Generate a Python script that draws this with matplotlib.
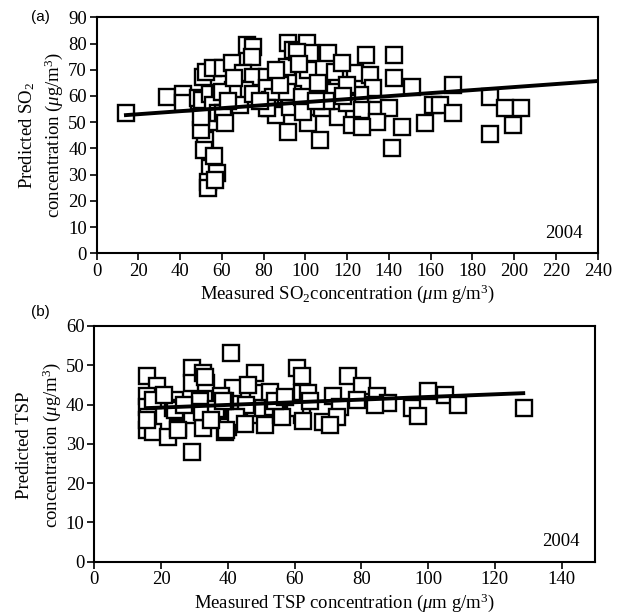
import matplotlib
matplotlib.use("Agg")
import matplotlib.pyplot as plt

plt.rcParams['font.family'] = ['Liberation Serif', 'DejaVu Serif']
plt.rcParams['mathtext.fontset'] = 'custom'
plt.rcParams['mathtext.rm'] = 'Liberation Serif'
plt.rcParams['mathtext.it'] = 'Liberation Serif:italic'

# ---- Panel (a): SO2 ----
so2_measured = [14, 33.5, 41.5, 41.5, 48.7, 50.3, 51, 52.5, 55.9, 60.7, 64.7,
                51.9, 51.6, 54.3, 53.5, 53.5, 56, 57.5, 56.8, 54.3, 59, 55.9,
                56.7, 58.2, 50, 50, 71.9, 75, 74.4, 70.2, 75, 71, 65.4, 68.6,
                75, 81.4, 81.4, 82.9, 84.5, 82.9, 86, 91.8, 91.8, 91.8, 94, 91,
                94.1, 97.3, 92.6, 100.6, 102.2, 101.4, 101.4, 106.8, 95.8, 110.9,
                114.2, 59.9, 91, 98.2, 107.8, 114.2, 107.8, 115.7, 60.7, 61.5,
                81.4, 99, 128.9, 142.4, 123.7, 130.9, 142.4, 150.9, 170.8, 117.4,
                132.5, 126.1, 119.8, 127, 134.1, 140.2, 161.2, 164.5, 170.8, 157.3,
                146.1, 134.1, 122.2, 127, 141.3, 188.4, 195.6, 203.1, 199.6, 188.4,
                106, 88, 78, 110, 120, 86, 97, 105, 118, 63, 66]
so2_predicted = [53.4, 59.5, 60.6, 57.2, 59.1, 58.5, 67.4, 69, 70.6, 70.6, 72.5,
                 43.2, 39.5, 32.4, 27.3, 24.8, 37, 30.6, 28, 60.8, 61, 56.6,
                 50.2, 53.4, 47, 52, 79.4, 78.7, 75, 68.6, 67.4, 62.2, 62.2, 56.6,
                 60.8, 67.4, 62.9, 58.5, 59.7, 55.4, 52.8, 46.4, 67.4, 80.1, 77.5, 71.1,
                 60.8, 58.5, 55.9, 80.1, 76.3, 69.9, 49.6, 43.2, 76.9, 76.3,
                 69.3, 61.6, 61.6, 59.7, 62.3, 61.6, 55.3, 52.1, 53.4, 49.6,
                 55.3, 54, 75.6, 75.6, 68.6, 68, 66.7, 63.5, 64.2, 72.5,
                 62.9, 60.4, 57.2, 54.7, 54.7, 55.3, 56.6, 56.6, 53.4, 49.6,
                 48.3, 50.2, 48.9, 48.3, 40, 59.5, 55.3, 55.3, 48.9, 45.4,
                 65, 64, 58, 58, 64, 70, 72, 58, 60, 58, 67]
so2_fit_x = [14, 240]
so2_fit_y = [52.7, 65.7]

# ---- Panel (b): TSP ----
tsp_measured = [15.7, 18.7, 15.7, 15.7, 16.2, 15.7, 17.7, 22.2, 24.2, 23.7, 25.2,
                29.2, 29.2, 29.2, 29.2, 32.6, 33.6, 32.6, 31.6, 37.6, 37.1, 39.1,
                41.1, 41.6, 40.1, 43.1, 48.1, 49.1, 48.1, 51.1, 50.4, 45.4, 53.6,
                55.8, 60.6, 62.1, 62.1, 62.1, 60.1, 76.1, 80.1, 71.6, 84.6, 78.6,
                88.1, 84, 73.6, 95.1, 97.1, 100, 105.1, 109, 128.7, 68.6, 72.8,
                70.6, 62.6, 64.1, 52.6, 42.6, 56.1, 45.1, 39.1, 54, 64.6, 33.1,
                38.1, 17.7, 24.2, 32.2, 36.6, 15.7, 25.2, 39.6, 38.6, 21, 27, 35,
                46, 57]
tsp_predicted = [47.3, 44.8, 42.1, 39.5, 36.9, 33.6, 33.1, 31.7, 41.2, 39.1, 34.1,
                 49.3, 45.5, 37.4, 28, 48, 45.5, 34.1, 40.9, 41.2, 36.9, 33.1,
                 53.1, 44.2, 34.4, 36.9, 48.1, 42.9, 37.4, 34.8, 39.1, 40, 39.5,
                 37.4, 49.3, 47.3, 42.9, 37.4, 39.1, 47.3, 44.6, 42.1, 42.1, 41.2,
                 40.4, 39.9, 39.5, 39.1, 37.1, 43.4, 42.5, 39.9, 39.2, 35.6, 36.9,
                 34.8, 35.9, 43, 43.3, 36.9, 36.9, 35.1, 40.8, 40.8, 40.8, 47.1,
                 42.1, 41.2, 38.7, 38.1, 38.9, 36.1, 33.6, 33.6, 40.8, 42.5, 40, 36,
                 45, 42]
tsp_fit_x = [16, 128.5]
tsp_fit_y = [39.1, 42.9]

so2_xticks = list(range(0, 241, 20))
so2_yticks = list(range(0, 91, 10))
tsp_xticks = list(range(0, 141, 20))
tsp_yticks = list(range(0, 61, 10))

W, H = 628, 613
fig = plt.figure(figsize=(W / 100, H / 100), dpi=100)

ax1 = fig.add_axes([96.7 / W, 1 - 253.3 / H, (597.7 - 96.7) / W, (253.3 - 17.3) / H])
ax2 = fig.add_axes([94.3 / W, 1 - 561.7 / H, (595 - 94.3) / W, (561.7 - 326) / H])

mstyle = dict(linestyle='none', marker='s', markersize=11.5, markerfacecolor='white',
              markeredgecolor='black', markeredgewidth=1.7)

ax1.plot(so2_measured, so2_predicted, **mstyle, zorder=2)
ax1.plot(so2_fit_x, so2_fit_y, color='black', linewidth=2.8, zorder=3)
ax2.plot(tsp_measured, tsp_predicted, **mstyle, zorder=2)
ax2.plot(tsp_fit_x, tsp_fit_y, color='black', linewidth=2.8, zorder=3)

ax1.set_xlim(0, 240)
ax1.set_ylim(0, 90)
ax1.set_xticks(so2_xticks)
ax1.set_yticks(so2_yticks)
ax2.set_xlim(0, 150)
ax2.set_ylim(0, 60)
ax2.set_xticks(tsp_xticks)
ax2.set_yticks(tsp_yticks)

for ax in (ax1, ax2):
    for sp in ax.spines.values():
        sp.set_linewidth(1.5)
    ax.tick_params(direction='out', length=5, width=1.2, labelsize=13.5, pad=2,
                   top=False, right=False)

ax1.text(0.97, 0.05, '2004', transform=ax1.transAxes, ha='right', va='bottom', fontsize=13.5)
ax2.text(0.97, 0.05, '2004', transform=ax2.transAxes, ha='right', va='bottom', fontsize=13.5)

ax1.set_xlabel(r'Measured SO$_2$concentration ($\mu$m g/m$^3$)', fontsize=13.5, labelpad=2)
ax2.set_xlabel(r'Measured TSP concentration ($\mu$m g/m$^3$)', fontsize=13.5, labelpad=2)

fig.text(27 / W, 1 - 135 / H, r'Predicted SO$_2$', rotation=90, ha='center', va='center', fontsize=13.5)
fig.text(54 / W, 1 - 135 / H, r'concentration ($\mu$g/m$^3$)', rotation=90, ha='center', va='center', fontsize=13.5)
fig.text(25 / W, 1 - 445 / H, 'Predicted TSP', rotation=90, ha='center', va='center', fontsize=13.5)
fig.text(52 / W, 1 - 445 / H, r'concentration ($\mu$g/m$^3$)', rotation=90, ha='center', va='center', fontsize=13.5)

fig.text(40 / W, 1 - 17 / H, '(a)', ha='center', va='center', fontsize=11, family=['Liberation Sans'])
fig.text(40 / W, 1 - 312 / H, '(b)', ha='center', va='center', fontsize=11, family=['Liberation Sans'])

fig.savefig('out.png', dpi=100)
